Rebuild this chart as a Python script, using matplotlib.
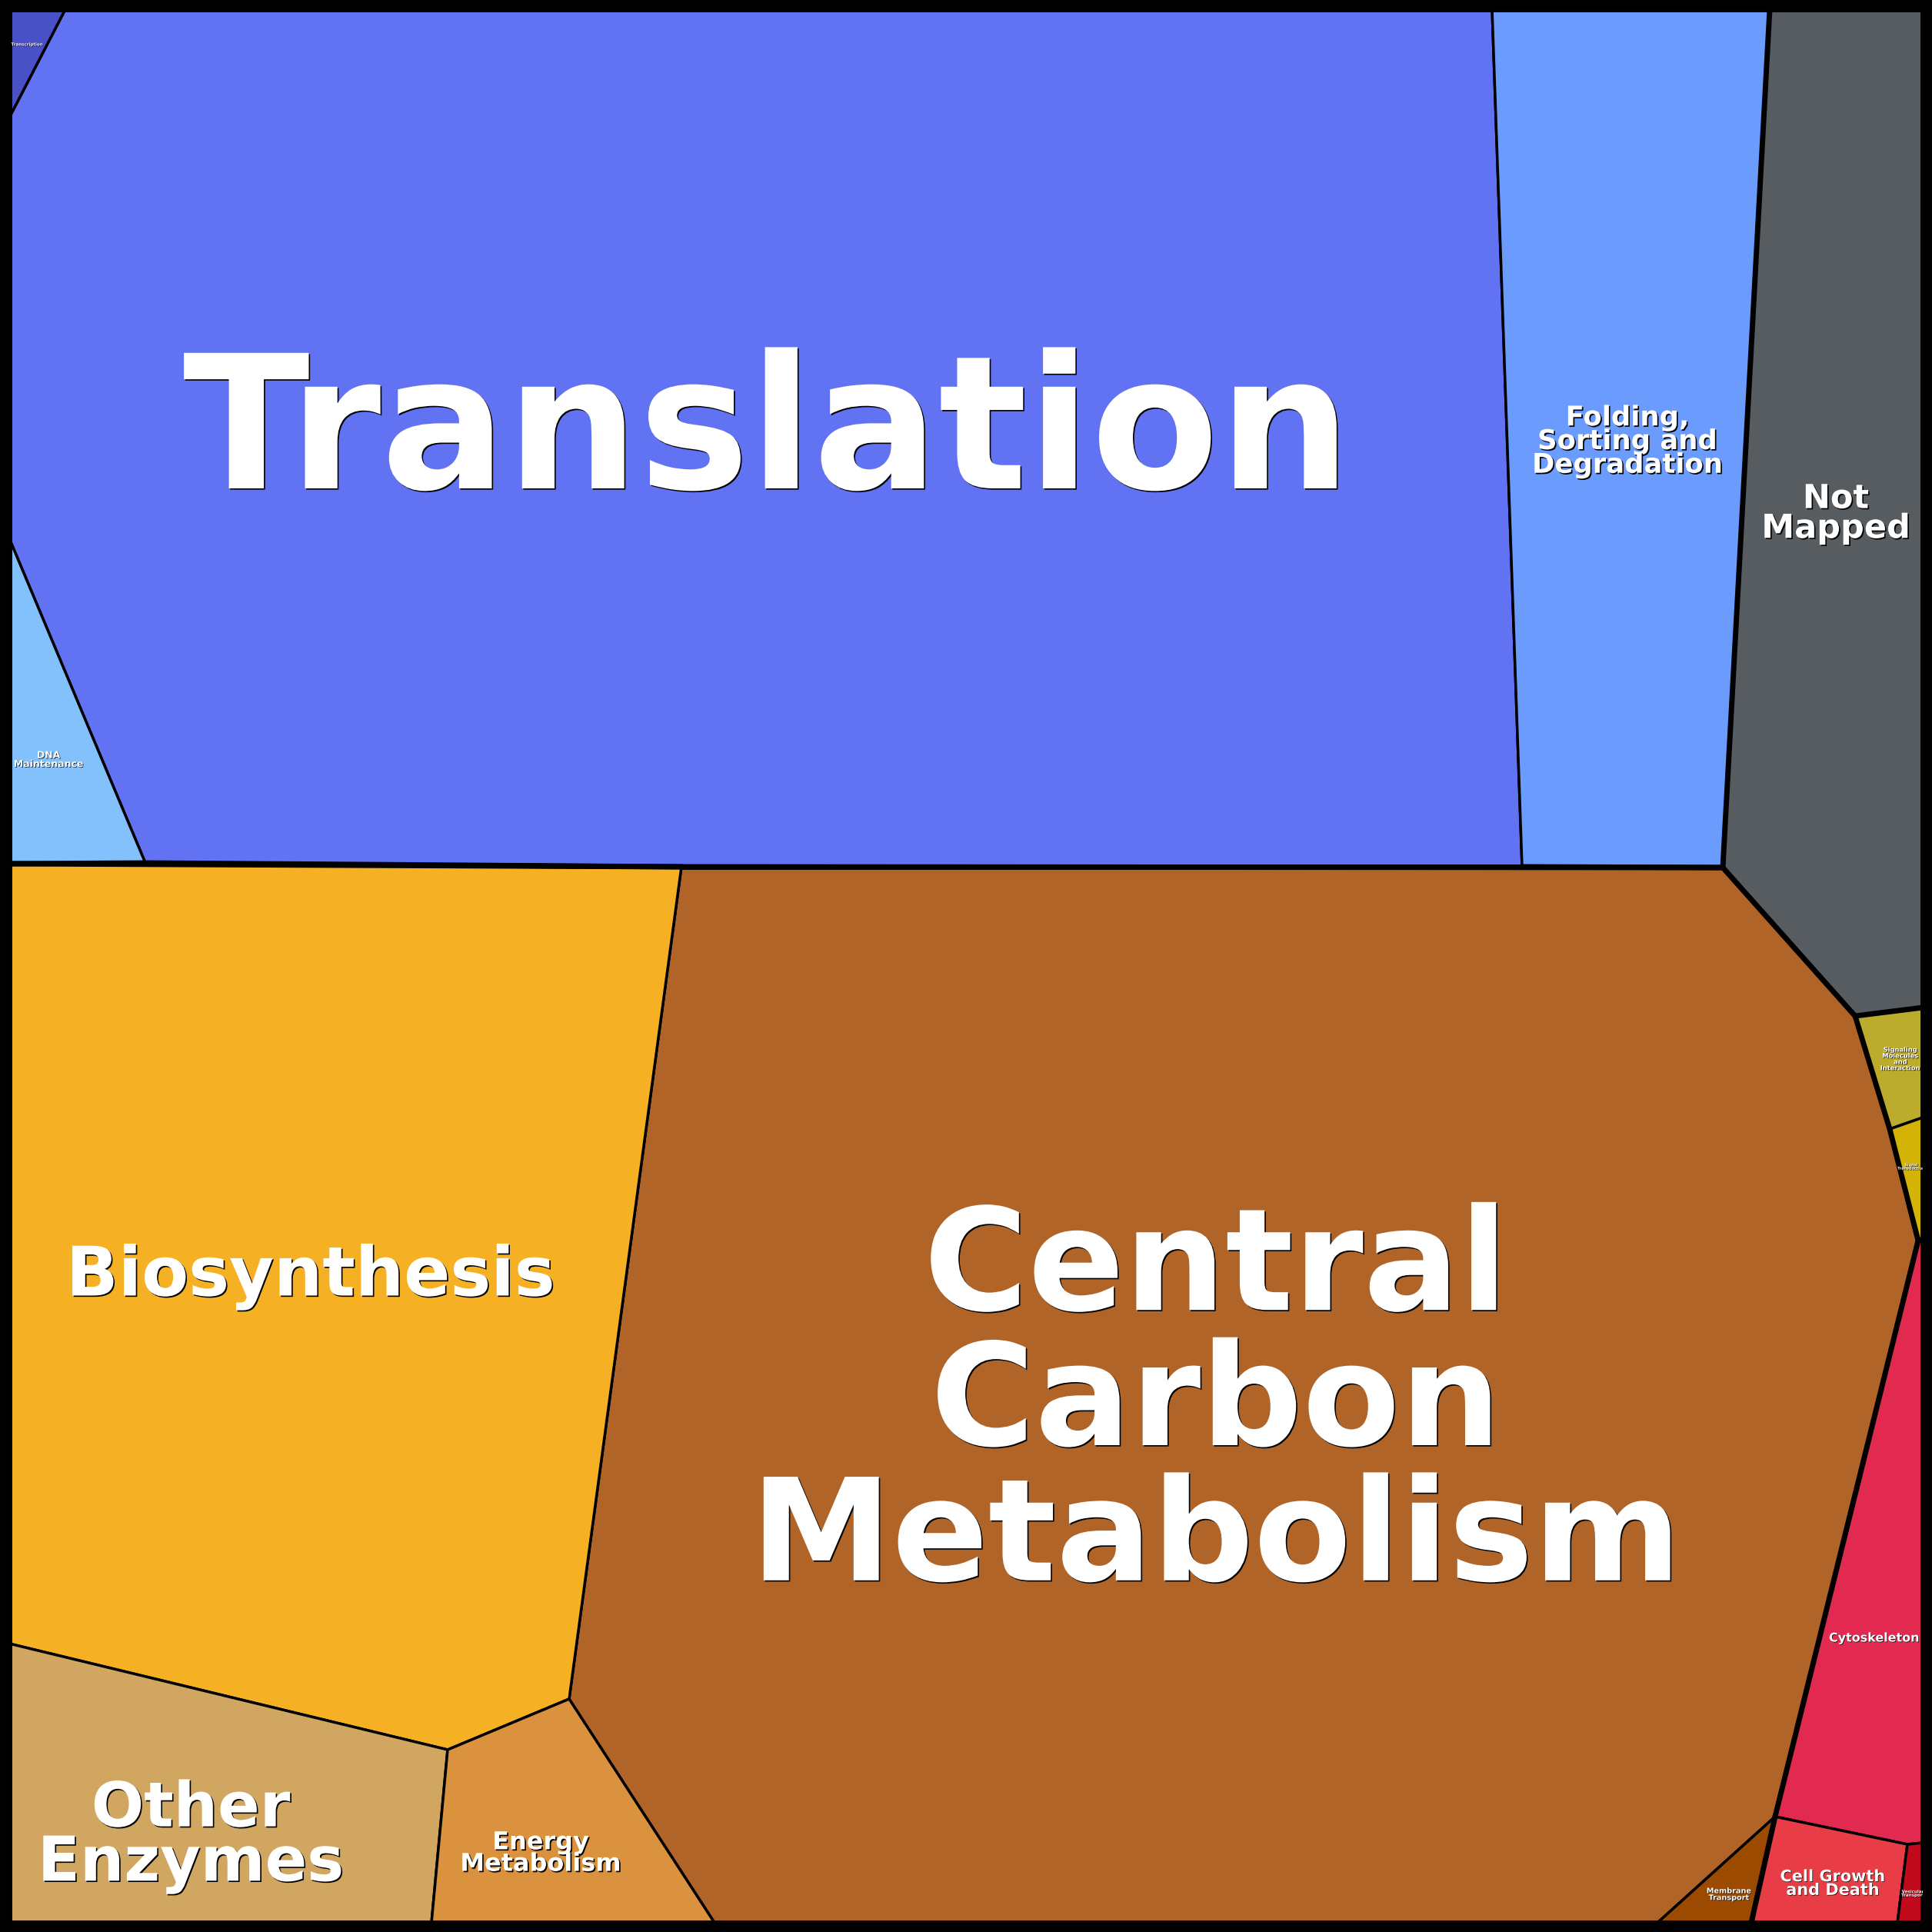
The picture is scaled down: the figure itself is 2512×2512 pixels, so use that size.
import numpy as np
from matplotlib import pyplot as plt
from matplotlib.patches import Polygon, Rectangle
from matplotlib.collections import LineCollection
import matplotlib.patheffects as pe

# Shared vertices of the voronoi treemap (pixel coords)
vertices = {
    'a': (12, 12), 'b': (85, 12), 'c': (12, 153), 'd': (1940, 12),
    'e': (2301, 12), 'f': (2500, 12), 'g': (12, 700), 'h': (189, 1122),
    'i': (12, 1123), 'j': (886, 1127), 'k': (1979, 1127), 'l': (2240, 1128),
    'm': (2412, 1321), 'n': (2500, 1310), 'o': (2457, 1468), 'p': (2500, 1453),
    'q': (2494, 1613), 'r': (2500, 1611), 's': (2308, 2362), 't': (2155, 2500),
    'u': (2277, 2500), 'v': (2480, 2398), 'w': (2500, 2396), 'x': (2467, 2500),
    'y': (2500, 2500), 'z': (929, 2500), 'aa': (740, 2209), 'bb': (582, 2275),
    'cc': (561, 2500), 'dd': (12, 2137), 'ee': (12, 2500),
}

# Cells: label, top level group, colour, vertex keys
labels = ['Translation', 'Folding,\nSorting and\nDegradation', 'Transcription',
          'DNA\nMaintenance', 'Not\nMapped', 'Central\nCarbon\nMetabolism',
          'Biosynthesis', 'Other\nEnzymes', 'Energy\nMetabolism', 'Membrane\nTransport',
          'Signaling\nMolecules\nand\nInteraction', 'Signal\nTransduction',
          'Cytoskeleton', 'Cell Growth\nand Death', 'Vesicular\nTransport']
groups = ['Genetic', 'Genetic', 'Genetic', 'Genetic', 'NotMapped', 'Metabolism',
          'Metabolism', 'Metabolism', 'Metabolism', 'Metabolism',
          'Environmental', 'Environmental', 'Cellular', 'Cellular', 'Cellular']
colors = ['#6173f2', '#6a9bfd', '#4a50c6', '#82c1fc', '#575c61', '#b06428',
          '#f6b024', '#d0a660', '#db923f', '#9c4a00',
          '#bcac2e', '#d2b306', '#e2294f', '#e83d47', '#c00a1c']
cells = [['b', 'd', 'k', 'j', 'h', 'g', 'c'],
         ['d', 'e', 'l', 'k'],
         ['a', 'b', 'c'],
         ['g', 'h', 'i'],
         ['e', 'f', 'n', 'm', 'l'],
         ['j', 'l', 'm', 'o', 'q', 's', 't', 'z', 'aa'],
         ['i', 'j', 'aa', 'bb', 'dd'],
         ['dd', 'bb', 'cc', 'ee'],
         ['bb', 'aa', 'z', 'cc'],
         ['s', 'u', 't'],
         ['m', 'n', 'p', 'o'],
         ['o', 'p', 'r', 'q'],
         ['q', 'r', 'w', 'v', 's'],
         ['s', 'v', 'x', 'u'],
         ['v', 'w', 'y', 'x']]

# Label placement and size
label_xy = [(997, 568), (2116, 574), (35, 58), (63, 988), (2387, 668), (1581, 1828),
            (404, 1660), (248, 2388), (703, 2410), (2248, 2463),
            (2471, 1377), (2485, 1517), (2437, 2130), (2383, 2449), (2487, 2462)]
label_size = [174, 25.5, 4, 9, 31, 133, 64, 58, 23, 7, 6, 3.5, 11.5, 15, 4]
label_spacing = [0.85, 0.88, 0.85, 0.85, 0.9, 0.97, 0.85, 0.88, 0.88, 0.85,
                 0.85, 0.85, 0.85, 0.85, 0.85]

fig = plt.figure(figsize=(25.12, 25.12), dpi=100, facecolor='black')
ax = fig.add_axes([0, 0, 1, 1])
ax.set_xlim(0, 2512)
ax.set_ylim(2512, 0)
ax.axis('off')

# Fill cells with thin edges
for cell, col in zip(cells, colors):
    pts = np.array([vertices[v] for v in cell])
    ax.add_patch(Polygon(pts, closed=True, facecolor=col, edgecolor='black',
                         linewidth=2.5, joinstyle='round', zorder=1))

# Thick lines where the top level group changes
edge_groups = {}
for cell, grp in zip(cells, groups):
    for k in range(len(cell)):
        key = frozenset((cell[k], cell[(k + 1) % len(cell)]))
        edge_groups.setdefault(key, []).append(grp)
thick = []
for key, grps in edge_groups.items():
    if len(grps) == 1 or len(set(grps)) > 1:
        v1, v2 = tuple(key)
        thick.append([vertices[v1], vertices[v2]])
ax.add_collection(LineCollection(thick, colors='black', linewidths=5,
                                 capstyle='round', joinstyle='round', zorder=2))

# Labels
for lab, (x, y), size, ls in zip(labels, label_xy, label_size, label_spacing):
    off = 1.2 if size > 20 else 0.5
    ax.text(x, y, lab, ha='center', va='center', multialignment='center',
            fontsize=size, fontweight='bold', color='white', family='DejaVu Sans',
            linespacing=ls, zorder=3,
            path_effects=[pe.withSimplePatchShadow(offset=(off, -off),
                                                    shadow_rgbFace='black', alpha=1)])

# Outer frame
ax.add_patch(Rectangle((6, 6), 2500, 2500, fill=False, edgecolor='black',
                       linewidth=8.64, zorder=4))

fig.savefig('out.png', dpi=100, facecolor='black')
